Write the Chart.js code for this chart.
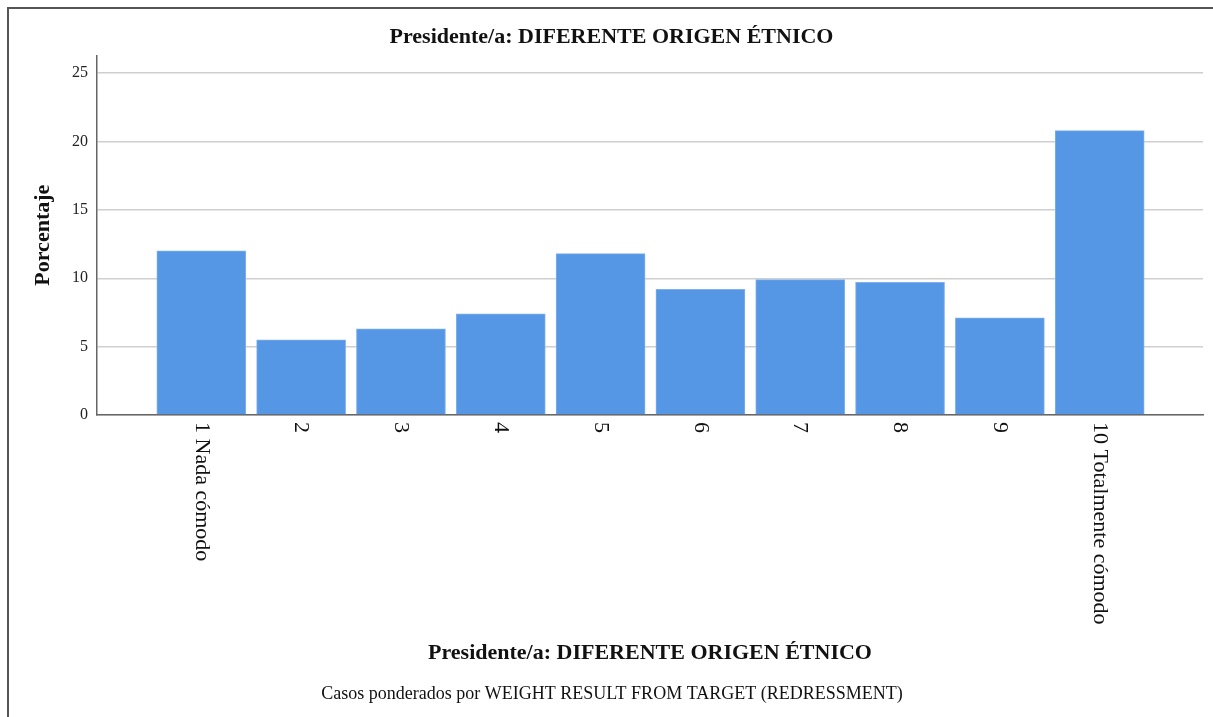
<!DOCTYPE html>
<html>
<head>
<meta charset="utf-8">
<script src="https://cdn.jsdelivr.net/npm/chart.js@4/dist/chart.umd.min.js"></script>
<style>
  html, body { margin: 0; padding: 0; background: #fff; }
  #wrap { width: 1213px; height: 717px; }
</style>
</head>
<body>
<div id="wrap"><canvas id="grafico" width="1213" height="717"></canvas></div>
<script>
// datos
const categorias = ['1 Nada cómodo', '2', '3', '4', '5', '6', '7', '8', '9', '10 Totalmente cómodo']
const porcentajes = [12.0, 5.5, 6.3, 7.4, 11.8, 9.2, 9.9, 9.7, 7.1, 20.8]
const ticksY = [0, 5, 10, 15, 20, 25]

const titulo = 'Presidente/a: DIFERENTE ORIGEN ÉTNICO'
const tituloX = 'Presidente/a: DIFERENTE ORIGEN ÉTNICO'
const tituloY = 'Porcentaje'
const nota = 'Casos ponderados por WEIGHT RESULT FROM TARGET (REDRESSMENT)'

const serif = '"Liberation Serif", "Times New Roman", serif'

// etiquetas del eje x giradas, títulos de abajo y marco
const extras = {
  id: 'extras',
  afterDraw(chart) {
    const ctx = chart.ctx
    const x = chart.scales.x
    const area = chart.chartArea
    ctx.save()
    ctx.fillStyle = '#111'
    ctx.font = '22px ' + serif
    ctx.textAlign = 'left'
    ctx.textBaseline = 'middle'
    categorias.forEach((c, i) => {
      ctx.save()
      ctx.translate(x.getPixelForValue(i + 1), area.bottom + 7)
      ctx.rotate(Math.PI / 2)
      ctx.fillText(c, 0, 0)
      ctx.restore()
    })
    ctx.textAlign = 'center'
    ctx.font = 'bold 22px ' + serif
    ctx.fillText(tituloX, (area.left + area.right) / 2, 653)
    ctx.font = '18px ' + serif
    ctx.fillText(nota, 612, 694)

    ctx.strokeStyle = '#555'
    ctx.lineWidth = 2
    ctx.beginPath()
    ctx.moveTo(8, 717)
    ctx.lineTo(8, 8)
    ctx.lineTo(1213, 8)
    ctx.stroke()
    ctx.restore()
  }
}

new Chart(document.getElementById('grafico'), {
  type: 'bar',
  data: {
    datasets: [{
      data: porcentajes.map((v, i) => ({ x: i + 1, y: v })),
      backgroundColor: '#5596e5',
      borderColor: '#7eb0ee',
      borderWidth: 1,
      barThickness: 89
    }]
  },
  options: {
    responsive: false,
    animation: false,
    layout: { padding: { left: 20, right: 10, top: 0, bottom: 0 } },
    plugins: {
      legend: { display: false },
      tooltip: { enabled: false },
      title: {
        display: true,
        text: titulo,
        color: '#111',
        font: { family: serif, size: 22, weight: 'bold' },
        padding: { top: 24, bottom: 5 }
      }
    },
    scales: {
      x: {
        type: 'linear',
        offset: false,
        min: -0.045,
        max: 11.035,
        grid: { display: false },
        border: { color: '#666', width: 1.5 },
        ticks: { display: false },
        afterFit(scale) { scale.height = 302 }
      },
      y: {
        min: 0,
        max: 26.3,
        afterBuildTicks(scale) { scale.ticks = ticksY.map(v => ({ value: v })) },
        grid: { color: '#cfcfcf', lineWidth: 1.5, drawTicks: false },
        border: { color: '#666', width: 1.5 },
        ticks: { color: '#222', padding: 9, font: { family: serif, size: 16 } },
        title: {
          display: true,
          text: tituloY,
          color: '#111',
          font: { family: serif, size: 22, weight: 'bold' },
          padding: { top: 10 }
        },
        afterFit(scale) { scale.width = 77 }
      }
    }
  },
  plugins: [extras]
})
</script>
</body>
</html>
